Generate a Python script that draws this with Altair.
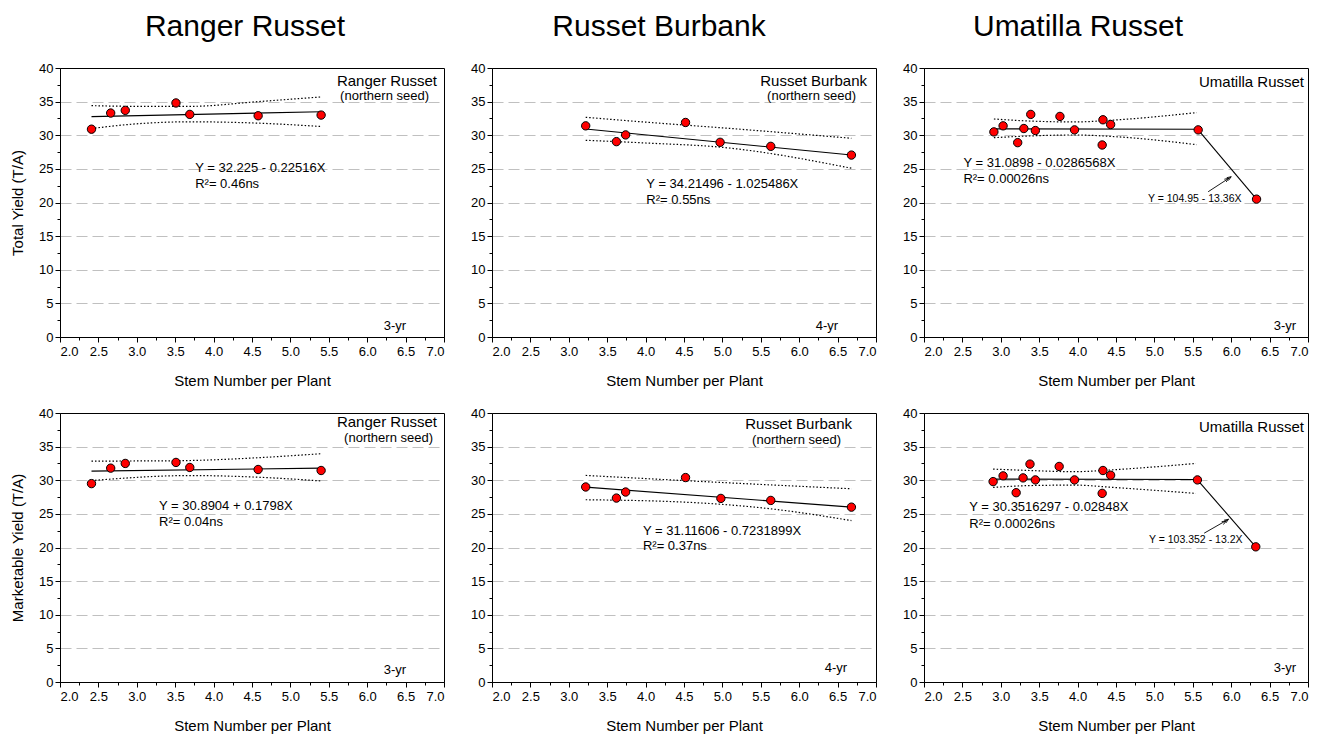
import altair as alt
import pandas as pd

FONT = "Liberation Sans"

# ---------------- data ----------------
# Ranger Russet - total yield
rr_tot_x = [2.41, 2.66, 2.85, 3.51, 3.69, 4.58, 5.40]
rr_tot_y = [30.9, 33.3, 33.7, 34.8, 33.1, 32.9, 33.0]
rr_tot_fit_x = [2.41, 5.40]
rr_tot_fit_y = [32.77, 33.50]
rr_tot_up_x = [2.41, 3.0, 3.7, 4.58, 5.40]
rr_tot_up_y = [34.4, 34.3, 34.3, 35.0, 35.7]
rr_tot_lo_x = [2.41, 3.0, 3.7, 4.58, 5.40]
rr_tot_lo_y = [31.0, 31.7, 32.0, 31.8, 31.3]

# Russet Burbank - total yield
rb_tot_x = [3.22, 3.62, 3.74, 4.52, 4.97, 5.63, 6.68]
rb_tot_y = [31.4, 29.05, 30.05, 31.9, 28.95, 28.35, 27.05]
rb_tot_fit_x = [3.22, 6.68]
rb_tot_fit_y = [30.93, 27.06]
rb_tot_up_x = [3.22, 4.0, 5.0, 6.68]
rb_tot_up_y = [32.67, 31.95, 31.1, 29.55]
rb_tot_lo_x = [3.22, 4.0, 5.0, 6.68]
rb_tot_lo_y = [29.25, 28.85, 28.2, 25.1]

# Umatilla Russet - total yield
um_tot_x = [2.91, 3.03, 3.22, 3.30, 3.39, 3.45, 3.77, 3.96, 4.33, 4.32, 4.43, 5.57, 6.33]
um_tot_y = [30.5, 31.4, 28.9, 31.0, 33.1, 30.7, 32.8, 30.8, 32.3, 28.55, 31.6, 30.8, 20.5]
um_tot_fit1_x = [2.91, 5.57]
um_tot_fit1_y = [30.95, 30.9]
um_tot_fit2_x = [5.57, 6.33]
um_tot_fit2_y = [30.8, 20.5]
um_tot_up_x = [2.91, 3.36, 3.97, 4.49, 5.55]
um_tot_up_y = [32.42, 32.12, 31.98, 32.27, 33.37]
um_tot_lo_x = [2.91, 3.36, 3.97, 4.49, 5.55]
um_tot_lo_y = [29.64, 29.89, 30.04, 29.79, 28.6]
um_tot_arrow_x = [5.70, 6.00]
um_tot_arrow_y = [21.6, 23.83]

# Ranger Russet - marketable yield
rr_mkt_x = [2.41, 2.66, 2.85, 3.51, 3.69, 4.58, 5.40]
rr_mkt_y = [29.5, 31.8, 32.5, 32.65, 31.9, 31.6, 31.45]
rr_mkt_fit_x = [2.41, 5.40]
rr_mkt_fit_y = [31.36, 31.81]
rr_mkt_up_x = [2.41, 3.5, 4.58, 5.40]
rr_mkt_up_y = [32.85, 32.9, 33.35, 33.95]
rr_mkt_lo_x = [2.41, 3.7, 4.58, 5.40]
rr_mkt_lo_y = [29.95, 30.7, 30.45, 29.9]

# Russet Burbank - marketable yield
rb_mkt_x = [3.22, 3.62, 3.74, 4.52, 4.98, 5.63, 6.68]
rb_mkt_y = [29.0, 27.35, 28.25, 30.4, 27.3, 27.0, 26.0]
rb_mkt_fit_x = [3.22, 6.68]
rb_mkt_fit_y = [28.98, 26.0]
rb_mkt_up_x = [3.22, 4.5, 6.68]
rb_mkt_up_y = [30.72, 29.95, 28.73]
rb_mkt_lo_x = [3.22, 4.5, 5.63, 6.68]
rb_mkt_lo_y = [27.1, 26.75, 25.75, 24.0]

# Umatilla Russet - marketable yield
um_mkt_x = [2.90, 3.03, 3.20, 3.29, 3.38, 3.45, 3.76, 3.96, 4.33, 4.32, 4.43, 5.56, 6.32]
um_mkt_y = [29.8, 30.65, 28.15, 30.35, 32.4, 30.05, 32.05, 30.05, 31.45, 28.05, 30.75, 30.05, 20.1]
um_mkt_fit1_x = [2.90, 5.56]
um_mkt_fit1_y = [30.17, 30.12]
um_mkt_fit2_x = [5.56, 6.32]
um_mkt_fit2_y = [30.05, 20.1]
um_mkt_up_x = [2.90, 3.35, 3.96, 4.47, 5.54]
um_mkt_up_y = [31.66, 31.46, 31.27, 31.56, 32.5]
um_mkt_lo_x = [2.90, 3.35, 3.96, 4.47, 5.54]
um_mkt_lo_y = [28.93, 29.2, 29.28, 28.93, 28.04]
um_mkt_arrow_x = [5.648, 5.965]
um_mkt_arrow_y = [22.13, 24.2]

# equation texts: (text, x, y)
eq_texts = [
    [("Y = 32.225 - 0.22516X", 3.76, 25.07), ("R\u00b2= 0.46ns", 3.76, 22.7)],
    [("Y = 34.21496 - 1.025486X", 4.01, 22.7), ("R\u00b2= 0.55ns", 4.01, 20.4)],
    [("Y = 31.0898 - 0.0286568X", 2.513, 25.9), ("R\u00b2= 0.00026ns", 2.513, 23.5)],
    [("Y = 30.8904 + 0.1798X", 3.29, 26.15), ("R\u00b2= 0.04ns", 3.29, 23.8)],
    [("Y = 31.11606 - 0.7231899X", 3.965, 22.4), ("R\u00b2= 0.37ns", 3.965, 20.15)],
    [("Y = 30.3516297 - 0.02848X", 2.59, 25.95), ("R\u00b2= 0.00026ns", 2.59, 23.47)],
]
small_eq = {2: ("Y = 104.95 - 13.36X", 6.134, 20.46), 5: ("Y = 103.352 - 13.2X", 6.147, 21.1)}

col_titles = ["Ranger Russet", "Russet Burbank", "Umatilla Russet"]
row_titles = ["Total Yield (T/A)", "Marketable Yield (T/A)"]

# corner labels: (text, px, py, align, size)
corner_labels = [
    [("Ranger Russet", 377, 13, "right", 15), ("(northern seed)", 369, 28, "right", 13), ("3-yr", 335, 258, "center", 13)],
    [("Russet Burbank", 375, 13, "right", 15), ("(northern seed)", 364, 28, "right", 13), ("4-yr", 335, 258, "center", 13)],
    [("Umatilla Russet", 380, 14, "right", 15), ("3-yr", 361, 258, "center", 13)],
    [("Ranger Russet", 377, 9, "right", 15), ("(northern seed)", 373, 25, "right", 13), ("3-yr", 335, 257, "center", 13)],
    [("Russet Burbank", 360, 11, "right", 15), ("(northern seed)", 349, 27, "right", 13), ("4-yr", 344, 255, "center", 13)],
    [("Umatilla Russet", 380, 14, "right", 15), ("3-yr", 361, 255, "center", 13)],
]
title_dx = [-7, -25, -38]

W, H = 384, 269

# ---------------- helpers ----------------
def seg_df(*segs):
    rows = []
    for i, (xs, ys) in enumerate(segs):
        for xv, yv in zip(xs, ys):
            rows.append({"x": xv, "y": yv, "seg": i})
    return pd.DataFrame(rows)


x_axis = alt.Axis(
    values=[2 + 0.25 * i for i in range(21)],
    format=".1f",
    labelExpr="(datum.value * 4) % 2 === 0 ? datum.label : ''",
    tickSize={"condition": {"test": "(datum.value * 4) % 2 === 0", "value": 5}, "value": 3},
    grid=False,
    title="Stem Number per Plant",
    titlePadding=15,
    labelPadding=3,
)

y_axis = alt.Axis(
    values=[2.5 * i for i in range(17)],
    format="d",
    labelExpr="datum.value % 5 === 0 ? datum.label : ''",
    tickSize={"condition": {"test": "datum.value % 5 === 0", "value": 5}, "value": 3},
    grid=True,
    gridDash=[11, 5],
    gridColor="#c0c0c0",
    gridWidth=1.2,
    gridOpacity={"condition": {"test": "datum.value % 5 === 0 && datum.value > 0 && datum.value < 40", "value": 1}, "value": 0},
    labelPadding=2,
    titlePadding=13,
)


def panel(idx, px, py, fits, ups_los, arrow, ytitle):
    xe = alt.X("x:Q", scale=alt.Scale(domain=[2, 7], nice=False, zero=False), axis=x_axis)
    if ytitle:
        ye = alt.Y("y:Q", scale=alt.Scale(domain=[0, 40], nice=False), axis=y_axis, title=ytitle)
    else:
        ye = alt.Y("y:Q", scale=alt.Scale(domain=[0, 40], nice=False), axis=y_axis, title=None)

    layers = []
    layers.append(
        alt.Chart(seg_df(*ups_los)).mark_line(
            color="black", strokeWidth=1.2, strokeDash=[1.5, 2], interpolate="monotone"
        ).encode(x=xe, y=ye, detail="seg:N")
    )
    layers.append(
        alt.Chart(seg_df(*fits)).mark_line(color="black", strokeWidth=1.1).encode(x=xe, y=ye, detail="seg:N")
    )
    if arrow is not None:
        ax, ay = arrow
        layers.append(
            alt.Chart(seg_df((ax, ay))).mark_line(color="black", strokeWidth=0.9).encode(x=xe, y=ye, detail="seg:N")
        )
        head = pd.DataFrame({"x": [ax[1]], "y": [ay[1]]})
        layers.append(
            alt.Chart(head).mark_point(
                shape="M -0.35 0.9 L 0 0 L 0.35 0.9 M -0.35 1.5 L 0 0.6 L 0.35 1.5",
                filled=False, stroke="black", strokeWidth=0.8, size=90, angle=57, opacity=1,
            ).encode(x=xe, y=ye)
        )
    layers.append(
        alt.Chart(pd.DataFrame({"x": px, "y": py})).mark_point(
            filled=True, fill="#ff0000", stroke="black", strokeWidth=1, size=70, opacity=1
        ).encode(x=xe, y=ye)
    )
    eqs = eq_texts[idx]
    layers.append(
        alt.Chart(pd.DataFrame({"t": [e[0] for e in eqs], "x": [e[1] for e in eqs], "y": [e[2] for e in eqs]}))
        .mark_text(align="left", baseline="middle", font=FONT, fontSize=13, color="black")
        .encode(x=xe, y=ye, text="t:N")
    )
    if idx in small_eq:
        t, sx, sy = small_eq[idx]
        layers.append(
            alt.Chart(pd.DataFrame({"t": [t], "x": [sx], "y": [sy]}))
            .mark_text(align="right", baseline="middle", font=FONT, fontSize=10.5, color="black")
            .encode(x=xe, y=ye, text="t:N")
        )
    for (t, lx, ly, al, fs) in corner_labels[idx]:
        layers.append(
            alt.Chart(pd.DataFrame({"t": [t]}))
            .mark_text(align=al, baseline="middle", font=FONT, fontSize=fs, color="black")
            .encode(x=alt.value(lx), y=alt.value(ly), text="t:N")
        )
    ch = alt.layer(*layers).properties(width=W, height=H)
    if idx < 3:
        ch = ch.properties(
            title=alt.Title(
                col_titles[idx], font=FONT, fontSize=30, fontWeight="normal", color="black",
                anchor="middle", offset=20, dx=title_dx[idx],
            )
        )
    return ch


p1 = panel(0, rr_tot_x, rr_tot_y, [(rr_tot_fit_x, rr_tot_fit_y)],
           [(rr_tot_up_x, rr_tot_up_y), (rr_tot_lo_x, rr_tot_lo_y)], None, row_titles[0])
p2 = panel(1, rb_tot_x, rb_tot_y, [(rb_tot_fit_x, rb_tot_fit_y)],
           [(rb_tot_up_x, rb_tot_up_y), (rb_tot_lo_x, rb_tot_lo_y)], None, None)
p3 = panel(2, um_tot_x, um_tot_y, [(um_tot_fit1_x, um_tot_fit1_y), (um_tot_fit2_x, um_tot_fit2_y)],
           [(um_tot_up_x, um_tot_up_y), (um_tot_lo_x, um_tot_lo_y)], (um_tot_arrow_x, um_tot_arrow_y), None)
p4 = panel(3, rr_mkt_x, rr_mkt_y, [(rr_mkt_fit_x, rr_mkt_fit_y)],
           [(rr_mkt_up_x, rr_mkt_up_y), (rr_mkt_lo_x, rr_mkt_lo_y)], None, row_titles[1])
p5 = panel(4, rb_mkt_x, rb_mkt_y, [(rb_mkt_fit_x, rb_mkt_fit_y)],
           [(rb_mkt_up_x, rb_mkt_up_y), (rb_mkt_lo_x, rb_mkt_lo_y)], None, None)
p6 = panel(5, um_mkt_x, um_mkt_y, [(um_mkt_fit1_x, um_mkt_fit1_y), (um_mkt_fit2_x, um_mkt_fit2_y)],
           [(um_mkt_up_x, um_mkt_up_y), (um_mkt_lo_x, um_mkt_lo_y)], (um_mkt_arrow_x, um_mkt_arrow_y), None)

chart = (
    alt.concat(p1, p2, p3, p4, p5, p6, columns=3, spacing={"row": 76, "column": 48}, bounds="flush")
    .properties(padding={"left": 2, "top": 3, "right": 5, "bottom": 5})
    .configure(font=FONT)
    .configure_view(stroke="black", strokeWidth=1)
    .configure_axis(
        domainColor="black", domainWidth=1, tickColor="black", tickWidth=1,
        labelColor="black", titleColor="black", labelFont=FONT, titleFont=FONT,
        labelFontSize=13, titleFontSize=15, titleFontWeight="normal",
    )
)

chart.save("out.html", embed_options={"renderer": "svg", "actions": False})
